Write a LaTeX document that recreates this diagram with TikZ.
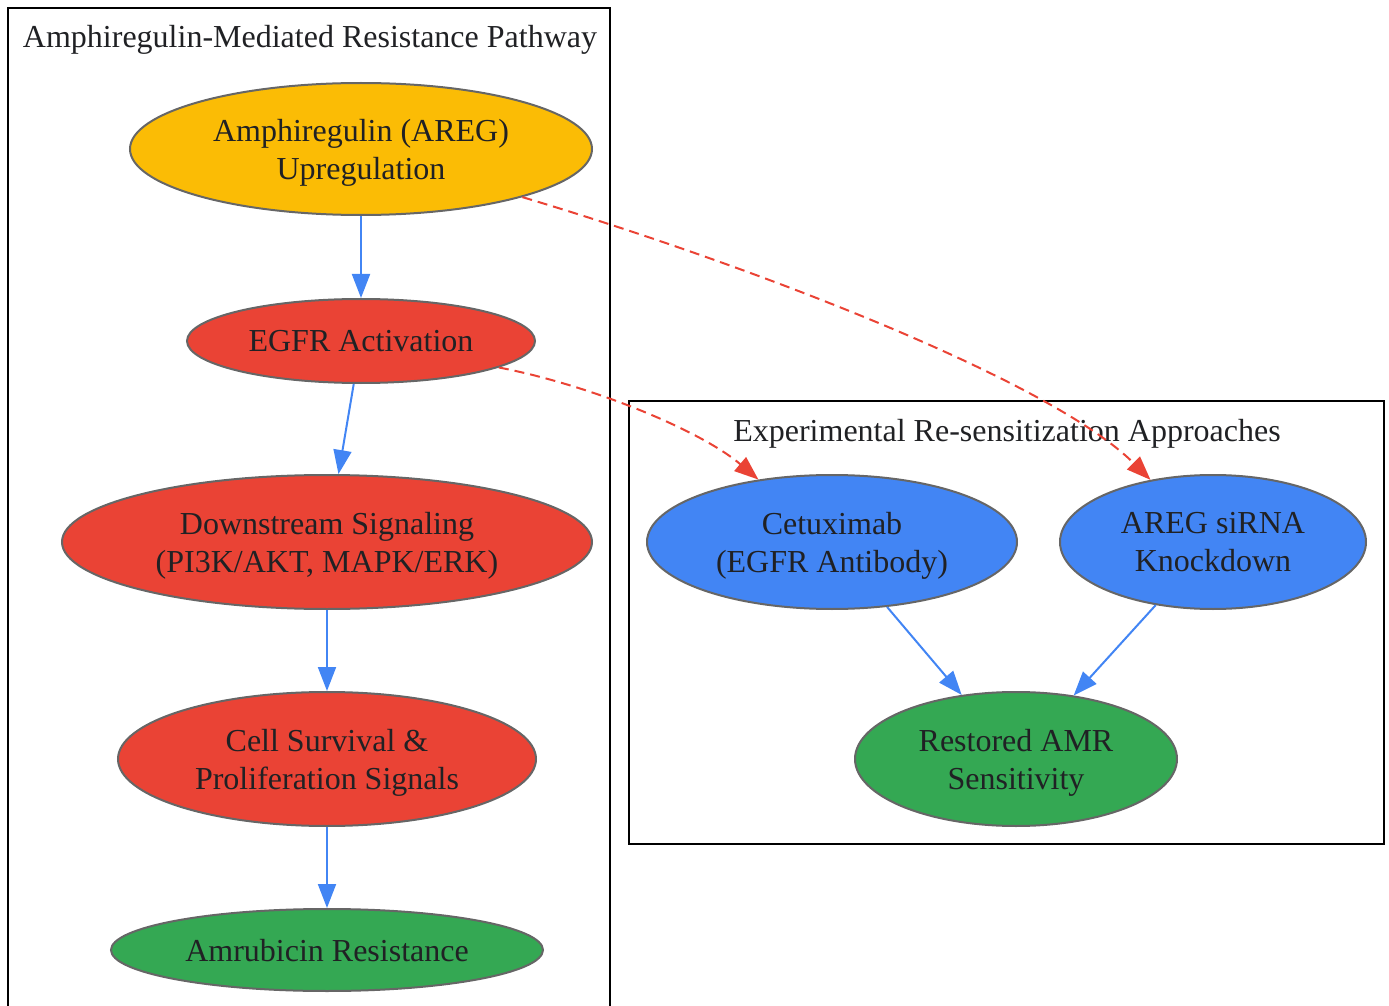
\documentclass[tikz,border=0pt]{standalone}
\usepackage{fontspec}
\setmainfont{Liberation Serif}
\usetikzlibrary{shapes.geometric,arrows.meta}
\definecolor{aregyellow}{HTML}{FBBC05}
\definecolor{sigred}{HTML}{EA4335}
\definecolor{approachblue}{HTML}{4285F4}
\definecolor{outgreen}{HTML}{34A853}
\definecolor{rimgray}{HTML}{666666}
\definecolor{inkgray}{HTML}{202124}

\begin{document}
\begin{tikzpicture}[x=0.5pt,y=-0.5pt,
	blob/.style={ellipse,draw=rimgray,line width=1pt,inner sep=0pt,align=center,text depth=0pt,
		text=inkgray,font=\fontsize{16}{19}\selectfont},
	flow/.style={-{Triangle[length=12pt,width=9pt]},approachblue,line width=1pt},
	hit/.style={-{Triangle[length=12pt,width=9pt]},sigred,line width=1pt,dash pattern=on 5pt off 3pt},
	boxtitle/.style={text=inkgray,font=\fontsize{16}{19}\selectfont}]
	\useasboundingbox (0,0) rectangle (1389,1006);
	% clusters
	\draw[line width=1pt] (8,1006) -- (8,8) -- (610,8) -- (610,1006);
	\node[boxtitle] (pathtitle) at (310,40) {Amphiregulin-Mediated Resistance Pathway};
	\draw[line width=1pt] (629,401) rectangle (1384,844);
	\node[boxtitle] (exptitle) at (1007,434) {Experimental Re-sensitization Approaches};
	% pathway
	\node[blob,fill=aregyellow,minimum width=231pt,minimum height=66pt] (areg) at (361,149) {Amphiregulin (AREG)\\Upregulation};
	\node[blob,fill=sigred,minimum width=174pt,minimum height=42pt] (egfr) at (361,341) {EGFR Activation};
	\node[blob,fill=sigred,minimum width=265pt,minimum height=67pt] (down) at (327,542) {Downstream Signaling\\(PI3K/AKT, MAPK/ERK)};
	\node[blob,fill=sigred,minimum width=209pt,minimum height=67pt] (surv) at (327,759) {Cell Survival \&\\Proliferation Signals};
	\node[blob,fill=outgreen,minimum width=216pt,minimum height=41pt] (amr) at (327,950) {Amrubicin Resistance};
	% approaches
	\node[blob,fill=approachblue,minimum width=185pt,minimum height=67pt] (cetux) at (832,542) {Cetuximab\\(EGFR Antibody)};
	\node[blob,fill=approachblue,minimum width=153pt,minimum height=67pt] (sirna) at (1213,542) {AREG siRNA\\Knockdown};
	\node[blob,fill=outgreen,minimum width=161pt,minimum height=67pt] (restored) at (1016,759) {Restored AMR\\Sensitivity};
	% edges
	\draw[flow] (areg) -- (egfr);
	\draw[flow] (egfr) -- (down);
	\draw[flow] (down) -- (surv);
	\draw[flow] (surv) -- (amr);
	\draw[flow] (cetux) -- (restored);
	\draw[flow] (sirna) -- (restored);
	\draw[hit] (areg) .. controls (750,265) and (1050,380) .. (sirna);
	\draw[hit] (egfr) .. controls (590,385) and (700,430) .. (cetux);
	\end{tikzpicture}
\end{document}
